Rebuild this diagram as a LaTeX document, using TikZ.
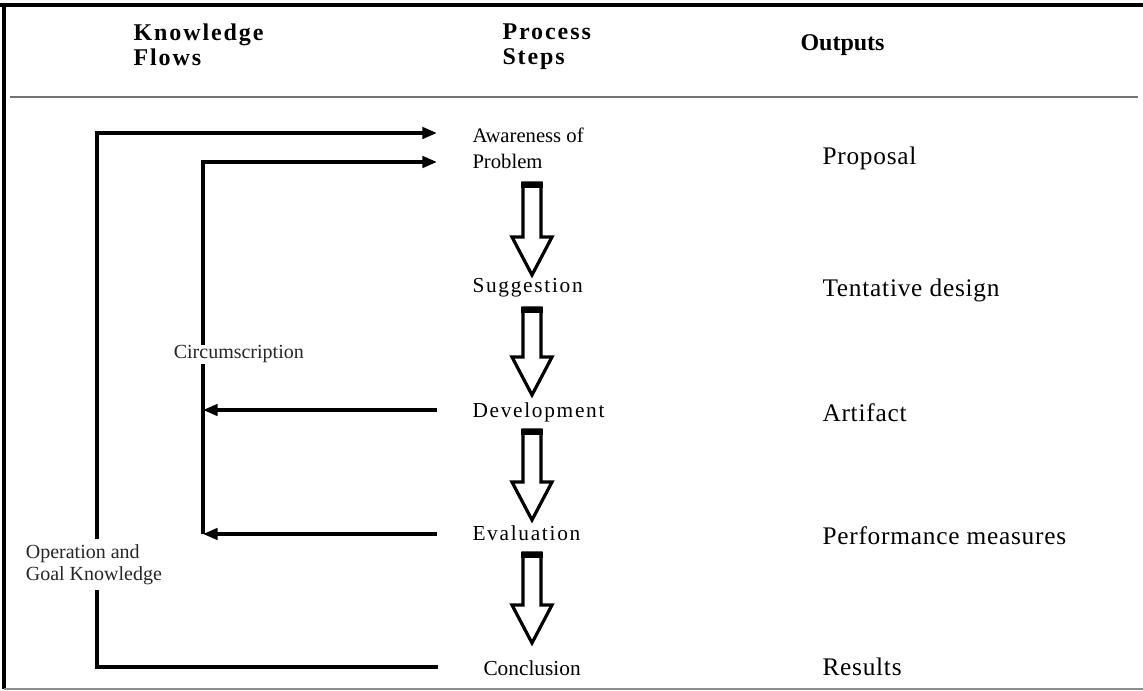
\documentclass[tikz,border=0pt]{standalone}
\usepackage{fontspec}
\setmainfont{Liberation Serif}
\newfontfamily\spacedfont[LetterSpace=8]{Liberation Serif}
\newfontfamily\outfont[LetterSpace=3]{Liberation Serif}
\usetikzlibrary{arrows.meta}

\tikzset{every picture/.style={line width=0.75pt}}
\tikzset{
  flowline/.style={line width=2.6pt, line join=miter, -{Triangle[length=11pt,width=8.5pt]}},
  bigarrow/.style={line width=2.4pt, fill=white, line join=miter},
  headtext/.style={font=\spacedfont\bfseries\fontsize{18}{18.75}\selectfont, inner sep=0pt, align=left},
  steptext/.style={font=\spacedfont\fontsize{16}{19.5}\selectfont, inner sep=0pt, align=left},
  plainstep/.style={steptext, font=\fontsize{15.5}{19.5}\selectfont},
  outtext/.style={font=\outfont\fontsize{19}{22}\selectfont, inner sep=0pt},
  flowtext/.style={font=\fontsize{15}{16.5}\selectfont, fill=white, inner xsep=1pt, inner ysep=0.5pt, align=left, text=black!85},
}

\begin{document}
\begin{tikzpicture}[x=0.75pt,y=0.75pt,yscale=-1,xscale=1]
		\useasboundingbox (0,0) rectangle (1143,691);

		%Frame
		\draw [line width=3pt] (0,5) -- (1143,5);
		\draw [line width=2.8pt] (4,3) -- (4,689);
		\draw [color=black!45, line width=1.2pt] (4,689) -- (1143,689);
		%Header rule
		\draw [color=black!55, line width=2pt] (10,97) -- (1138,97);

		% Text Node
		\node (hFlows) [headtext, anchor=north west] at (133,23.5) {Knowledge\\Flows};
		% Text Node
		\node (hSteps) [headtext, anchor=north west] at (502,23.5) {Process\\Steps};
		% Text Node
		\node (hOut) [headtext, font=\bfseries\fontsize{18}{18.75}\selectfont, anchor=base west] at (800,51) {Outputs};

		% Text Node
		\node (aware) [plainstep, anchor=north west] at (472,127) {Awareness of\\Problem};
		% Text Node
		\node (sugg) [steptext, anchor=base west] at (472,293) {Suggestion};
		% Text Node
		\node (dev) [steptext, anchor=base west] at (472,418) {Development};
		% Text Node
		\node (eval) [steptext, anchor=base west] at (472,541) {Evaluation};
		% Text Node
		\node (concl) [plainstep, font=\fontsize{16}{19.5}\selectfont, anchor=base west] at (483,675) {Conclusion};

		% Text Node
		\node (oProp) [outtext, anchor=base west] at (822,165) {Proposal};
		% Text Node
		\node (oDesign) [outtext, anchor=base west] at (822,297) {Tentative design};
		% Text Node
		\node (oArtifact) [outtext, anchor=base west] at (822,422) {Artifact};
		% Text Node
		\node (oMeasures) [outtext, anchor=base west] at (822,545) {Performance measures};
		% Text Node
		\node (oResults) [outtext, anchor=base west] at (822,675) {Results};

		%Knowledge flow corners
		\coordinate (okTop) at (97,133);
		\coordinate (okBot) at (97,667);
		\coordinate (cTop) at (203,162);
		\coordinate (cDev) at (203,410);
		\coordinate (cEval) at (203,534);
		\coordinate (inAware) at (437,133);
		\coordinate (inProb) at (437,162);
		\coordinate (outDev) at (437,410);
		\coordinate (outEval) at (437,534);
		\coordinate (outConcl) at (438,667);

		%Straight Lines
		\draw [flowline] (outConcl) -- (okBot) -- (okTop) -- (inAware);
		\draw [flowline] (cEval) -- (cTop) -- (inProb);
		\draw [flowline] (outDev) -- (cDev);
		\draw [flowline] (outEval) -- (cEval);

		% Text Node
		\node (circ) [flowtext, anchor=base west] at (172,359) {Circumscription};
		% Text Node
		\node (opGoal) [flowtext, inner ysep=4pt, anchor=north west] at (24,539) {Operation and\\Goal Knowledge};

		%Block arrows between the steps
		\foreach \t/\b in {183/275,308/395,430/520,553/643}{
			\draw [bigarrow] (523,\t) -- (541,\t) -- (541,\b-38) -- (552,\b-38) -- (532,\b) -- (512,\b-38) -- (523,\b-38) -- cycle;
			\draw [line width=3.8pt] (521.4,\t+2) -- (542.6,\t+2);
		}

	\end{tikzpicture}
\end{document}
